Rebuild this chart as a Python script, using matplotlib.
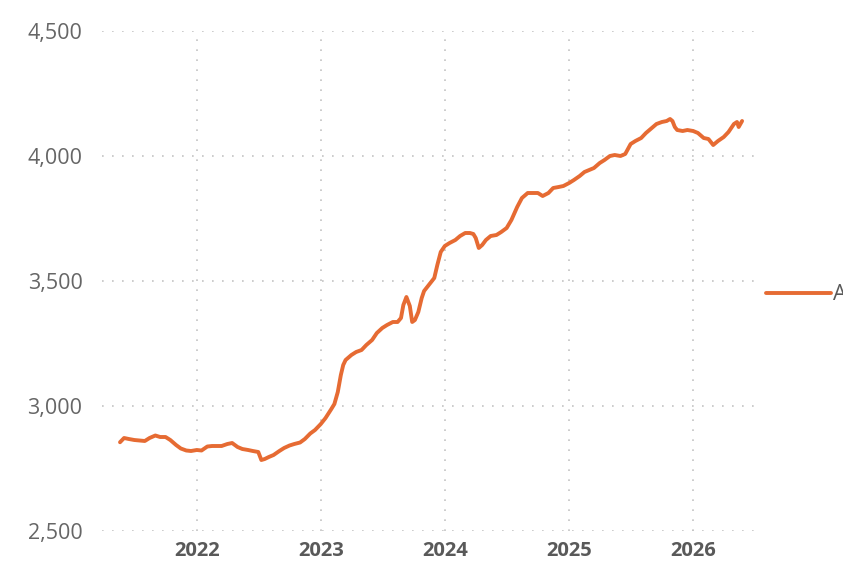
import matplotlib
matplotlib.use("Agg")
import matplotlib.pyplot as plt
import pandas as pd
from matplotlib.ticker import FuncFormatter

dates = [
    "2021-05-20", "2021-06-01", "2021-06-15", "2021-07-01", "2021-07-15", "2021-08-01", "2021-08-15",
    "2021-09-01", "2021-09-15", "2021-10-01", "2021-10-15", "2021-11-01", "2021-11-15", "2021-12-01",
    "2021-12-15", "2022-01-01", "2022-01-15", "2022-02-01", "2022-02-15", "2022-03-01", "2022-03-15",
    "2022-04-01", "2022-04-15", "2022-05-01", "2022-05-15", "2022-06-01", "2022-06-15", "2022-07-01",
    "2022-07-10", "2022-07-20", "2022-08-01", "2022-08-15", "2022-09-01", "2022-09-15", "2022-10-01",
    "2022-10-15", "2022-11-01", "2022-11-15", "2022-12-01", "2022-12-15", "2023-01-01", "2023-01-15",
    "2023-02-01", "2023-02-10", "2023-02-20", "2023-03-01", "2023-03-08", "2023-03-15", "2023-04-01",
    "2023-04-15", "2023-05-01", "2023-05-15", "2023-06-01", "2023-06-15", "2023-07-01", "2023-07-15",
    "2023-08-01", "2023-08-15", "2023-08-25", "2023-09-01", "2023-09-10", "2023-09-20", "2023-09-27",
    "2023-10-05", "2023-10-15", "2023-10-25", "2023-11-01", "2023-11-15", "2023-12-01", "2023-12-10",
    "2023-12-20", "2024-01-01", "2024-01-15", "2024-02-01", "2024-02-15", "2024-03-01", "2024-03-15",
    "2024-03-25", "2024-04-01", "2024-04-10", "2024-04-20", "2024-05-01", "2024-05-15", "2024-06-01",
    "2024-06-15", "2024-07-01", "2024-07-15", "2024-08-01", "2024-08-15", "2024-09-01", "2024-09-15",
    "2024-10-01", "2024-10-15", "2024-11-01", "2024-11-15", "2024-12-01", "2024-12-15", "2025-01-01",
    "2025-01-15", "2025-02-01", "2025-02-15", "2025-03-01", "2025-03-15", "2025-04-01", "2025-04-15",
    "2025-05-01", "2025-05-15", "2025-06-01", "2025-06-15", "2025-07-01", "2025-07-15", "2025-08-01",
    "2025-08-15", "2025-09-01", "2025-09-15", "2025-10-01", "2025-10-15", "2025-10-25", "2025-11-01",
    "2025-11-08", "2025-11-15", "2025-12-01", "2025-12-15", "2026-01-01", "2026-01-15", "2026-02-01",
    "2026-02-15", "2026-03-01", "2026-03-15", "2026-04-01", "2026-04-15", "2026-05-01", "2026-05-10",
    "2026-05-15", "2026-05-25",
]
values_a = [
    2855, 2872, 2868, 2864, 2862, 2860, 2872,
    2882, 2876, 2876, 2864, 2844, 2830, 2822,
    2820, 2824, 2822, 2838, 2840, 2840, 2840,
    2848, 2852, 2836, 2828, 2824, 2820, 2816,
    2784, 2788, 2796, 2804, 2820, 2832, 2842,
    2848, 2854, 2868, 2890, 2904, 2928, 2952,
    2988, 3008, 3056, 3124, 3164, 3184, 3204,
    3216, 3224, 3244, 3264, 3292, 3312, 3324,
    3336, 3336, 3352, 3404, 3436, 3400, 3336,
    3344, 3376, 3432, 3460, 3484, 3512, 3564,
    3616, 3640, 3652, 3664, 3680, 3692, 3692,
    3688, 3672, 3632, 3644, 3664, 3680, 3684,
    3696, 3712, 3744, 3796, 3832, 3852, 3852,
    3852, 3840, 3852, 3872, 3876, 3880, 3892,
    3904, 3920, 3936, 3944, 3952, 3972, 3984,
    4000, 4004, 4000, 4008, 4048, 4060, 4072,
    4092, 4112, 4128, 4136, 4140, 4148, 4140,
    4116, 4104, 4100, 4104, 4100, 4092, 4072,
    4068, 4044, 4060, 4076, 4096, 4128, 4136,
    4116, 4140,
]
series_name = "A"
y_ticks = [2500, 3000, 3500, 4000, 4500]
x_tick_years = [2022, 2023, 2024, 2025, 2026]

plt.rcParams["font.family"] = ["Open Sans", "DejaVu Sans"]

fig = plt.figure(figsize=(8.43, 5.61), dpi=100)
W, H = 843, 561
ax = fig.add_axes([102 / W, 1 - 531 / H, (755 - 102) / W, (531 - 31) / H])

x = pd.to_datetime(dates)
line, = ax.plot(x, values_a, color="#E66B33", linewidth=2.8, solid_capstyle="round",
                solid_joinstyle="round", label=series_name, zorder=3)

ax.set_xlim(pd.Timestamp("2021-03-28"), pd.Timestamp("2026-07-02"))
ax.set_ylim(2500, 4500)
ax.set_yticks(y_ticks)
ax.yaxis.set_major_formatter(FuncFormatter(lambda v, p: f"{int(v):,}"))
ax.set_xticks([pd.Timestamp(f"{y}-01-01") for y in x_tick_years])
ax.set_xticklabels([str(y) for y in x_tick_years])

for s in ax.spines.values():
    s.set_visible(False)
ax.tick_params(axis="y", length=0, pad=14, labelsize=15.5, labelcolor="#666666")
ax.tick_params(axis="x", length=0, pad=7, labelsize=14.5, labelcolor="#595959")
for lbl in ax.get_xticklabels():
    lbl.set_fontweight("bold")

ax.grid(True, which="major", color="#c4c4c4", linestyle=(0, (1, 5)), linewidth=1.2)
ax.set_axisbelow(True)

fig.legend(handles=[line], labels=[series_name], loc="center left",
           bbox_to_anchor=(766 / W, 1 - 295 / H), frameon=False, fontsize=15.5,
           handlelength=3.0, handletextpad=0.12, borderpad=0, borderaxespad=0,
           labelcolor="#595959")

fig.savefig("out.png", dpi=100)
